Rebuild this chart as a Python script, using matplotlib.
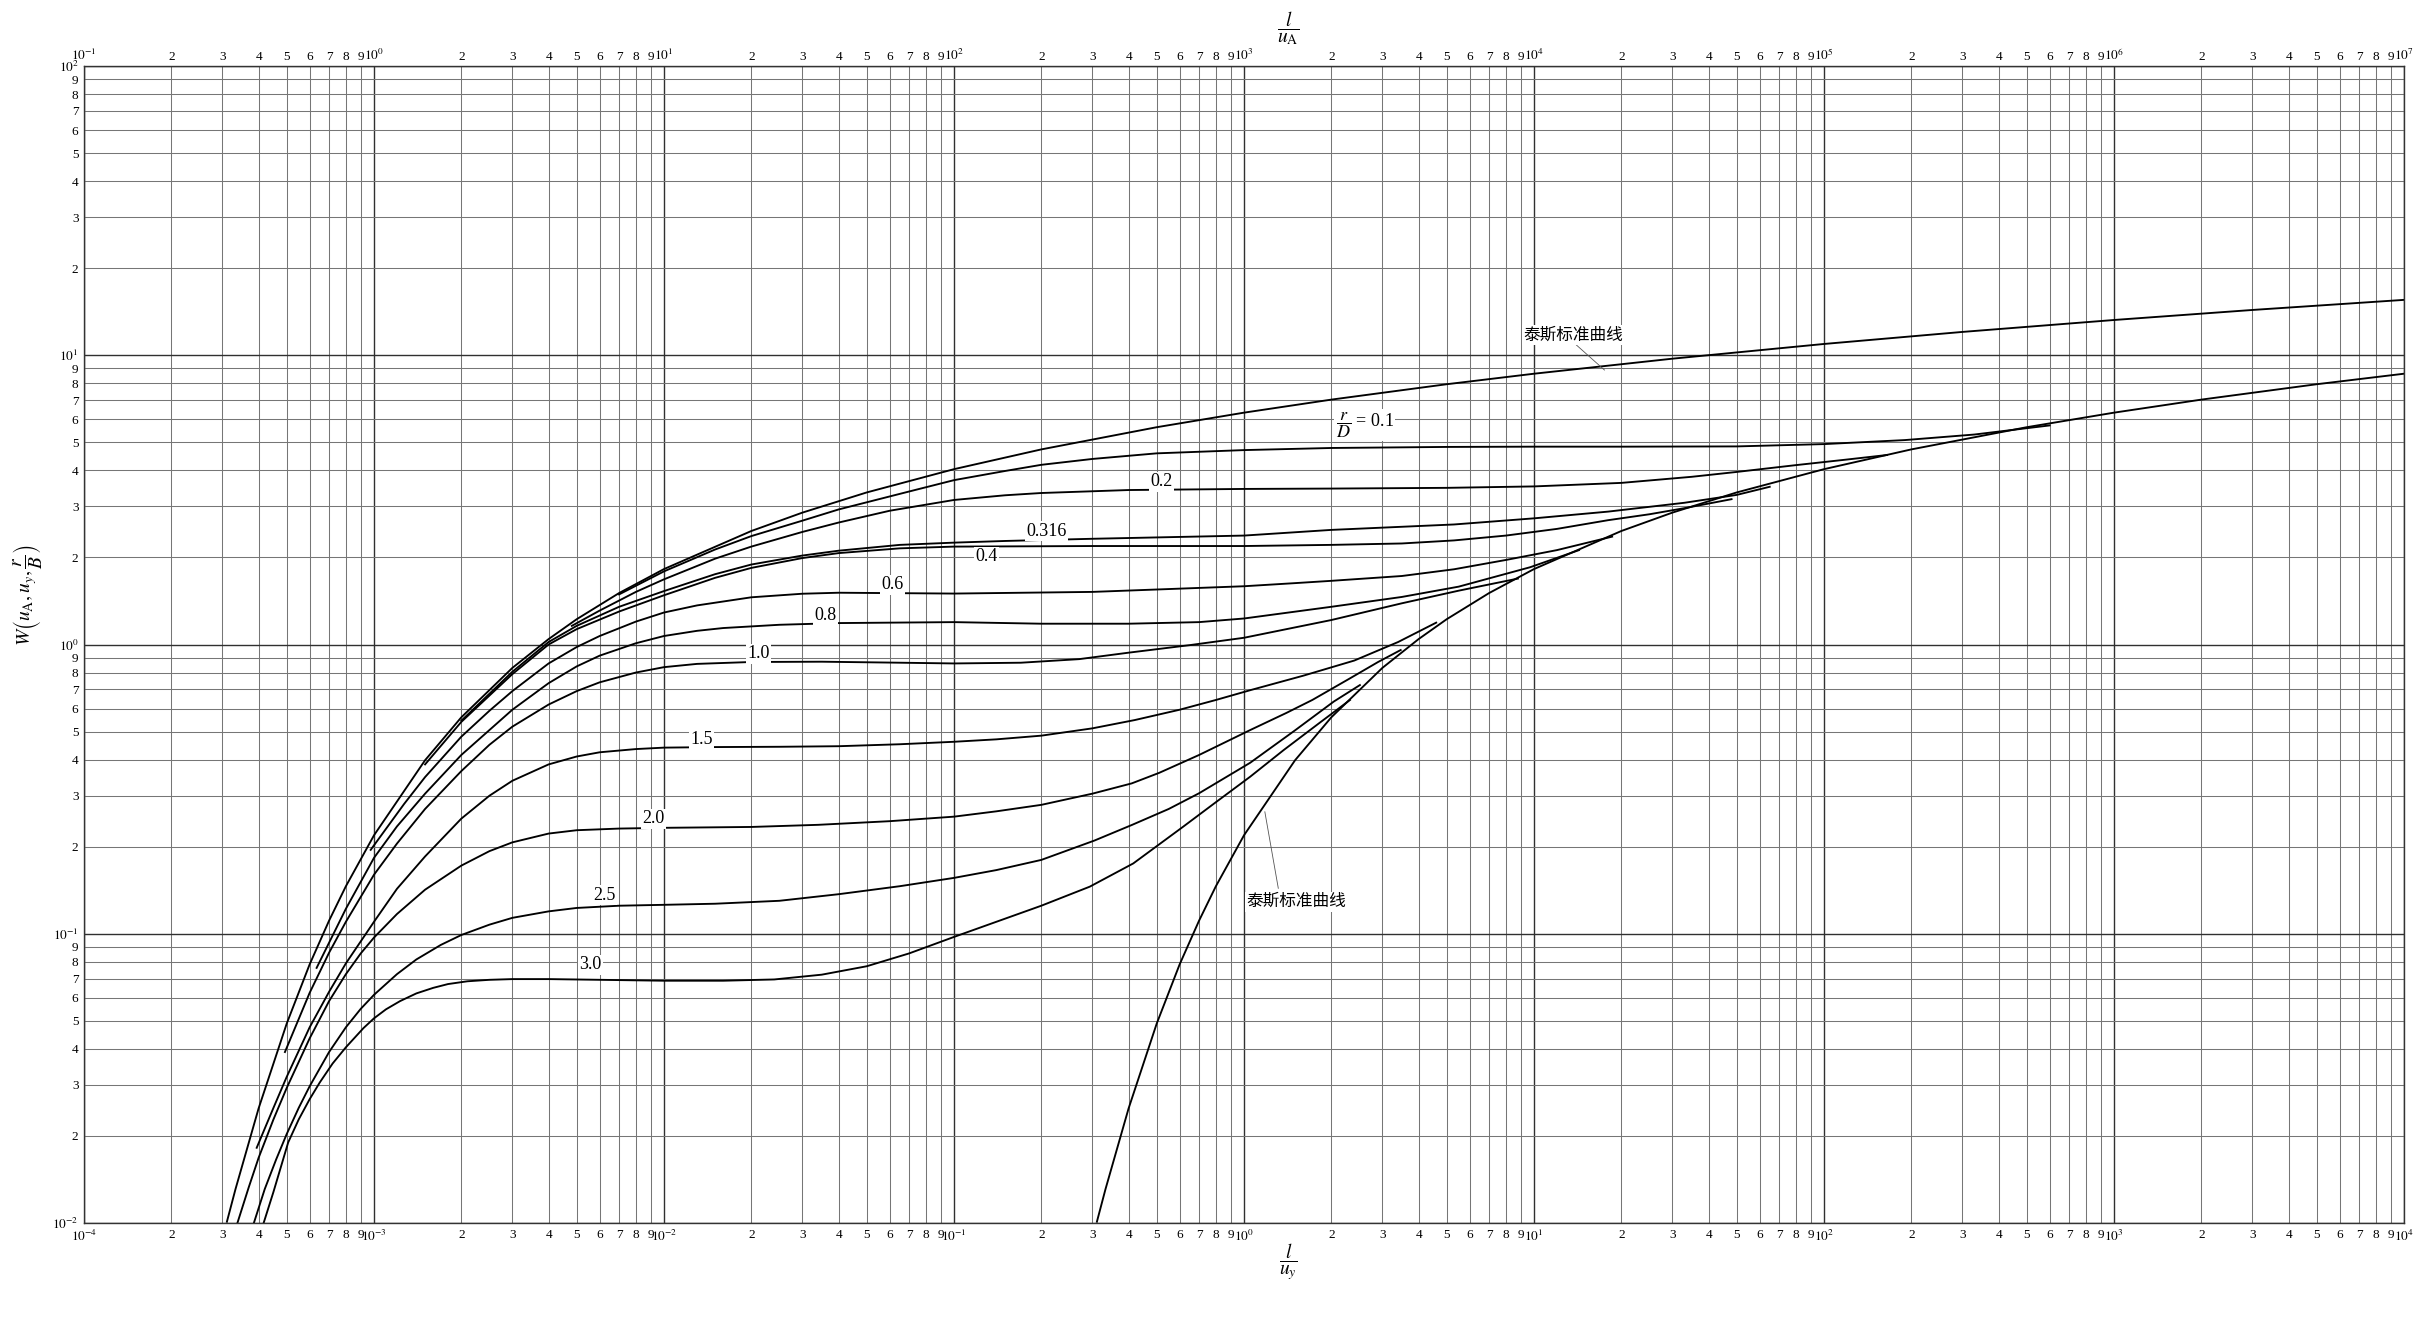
import numpy as np
import matplotlib
matplotlib.use("Agg")
import matplotlib.pyplot as plt
from matplotlib.ticker import FixedLocator, FuncFormatter

# ---- data --------------------------------------------------------------
# Theis curve against 1/u_A (top axis)
theis_a_x = [0.311, 0.333, 0.4, 0.5, 0.6, 0.7, 0.8, 1, 1.5, 2, 3, 4, 5, 7, 10, 20, 30, 50,
             100, 200, 500, 1e3, 2e3, 5e3, 1e4, 3e4, 1e5, 3e5, 1e6, 3e6, 1e7]
theis_a_w = [0.0101, 0.0131, 0.0249, 0.0489, 0.0784, 0.111, 0.146, 0.219, 0.398, 0.560, 0.830,
             1.044, 1.223, 1.506, 1.823, 2.468, 2.857, 3.355, 4.038, 4.726, 5.639, 6.332, 7.024,
             7.940, 8.633, 9.73, 10.94, 12.04, 13.24, 14.34, 15.54]
# Theis curve against 1/u_y (bottom axis)
theis_b_x = [0.311, 0.333, 0.4, 0.5, 0.6, 0.7, 0.8, 1, 1.5, 2, 3, 4, 5, 7, 10, 20, 30, 50,
             100, 200, 500, 1e3, 2e3, 5e3, 1e4]
theis_b_w = [0.0101, 0.0131, 0.0249, 0.0489, 0.0784, 0.111, 0.146, 0.219, 0.398, 0.560, 0.830,
             1.044, 1.223, 1.506, 1.823, 2.468, 2.857, 3.355, 4.038, 4.726, 5.639, 6.332, 7.024,
             7.940, 8.633]

# r/D curves: type A part (x = 1/u_A) and type B part (x = 1/u_y)
rd_01_ax = [7, 10, 15, 20, 30, 40, 70, 100, 150, 200, 300, 500, 1000, 2000, 5000, 10000]
rd_01_aw = [1.49, 1.79, 2.13, 2.37, 2.68, 2.93, 3.38, 3.70, 3.98, 4.18, 4.38, 4.58, 4.70, 4.78,
            4.82, 4.83]
rd_01_bx = [20, 50, 100, 190, 330, 600]
rd_01_bw = [4.83, 4.84, 4.93, 5.09, 5.32, 5.72]

rd_02_ax = [4.81, 6, 8, 10, 15, 20, 30, 40, 60, 100, 150, 200, 400, 1000]
rd_02_aw = [1.16, 1.31, 1.52, 1.68, 1.98, 2.18, 2.45, 2.64, 2.90, 3.16, 3.28, 3.34, 3.42, 3.45]
rd_02_bx = [2, 5, 10, 20, 35, 50, 80, 120, 165]
rd_02_bw = [3.46, 3.48, 3.52, 3.62, 3.80, 3.95, 4.17, 4.36, 4.52]

rd_0316_ax = [2.0, 3, 4, 5, 7, 10, 15, 20, 30, 40, 65, 100, 150, 300, 1000]
rd_0316_aw = [0.545, 0.805, 1.02, 1.16, 1.35, 1.53, 1.75, 1.89, 2.03, 2.11, 2.21, 2.25, 2.28,
              2.32, 2.38]
rd_0316_bx = [2, 5.3, 10, 18, 33, 50, 65]
rd_0316_bw = [2.49, 2.60, 2.73, 2.88, 3.09, 3.29, 3.51]

rd_04_ax = [1.5, 2, 3, 4, 5, 7, 10, 15, 20, 30, 40, 65, 100, 300, 1000]
rd_04_aw = [0.385, 0.54, 0.79, 1.00, 1.13, 1.30, 1.48, 1.70, 1.84, 1.99, 2.07, 2.15, 2.18, 2.19,
            2.19]
rd_04_bx = [2, 3.5, 5.3, 8, 12, 18, 25, 33, 48]
rd_04_bw = [2.21, 2.235, 2.29, 2.38, 2.51, 2.69, 2.82, 2.96, 3.18]

rd_06_ax = [0.974, 1.27, 1.5, 2, 2.5, 3, 4, 5, 6, 8, 10, 13, 20, 30, 40, 100, 300, 1000]
rd_06_aw = [0.195, 0.281, 0.348, 0.48, 0.59, 0.69, 0.86, 0.98, 1.07, 1.20, 1.29, 1.365, 1.456,
            1.498, 1.51, 1.50, 1.52, 1.59]
rd_06_bx = [1.5, 2, 3.5, 5.3, 8, 12, 18.6]
rd_06_bw = [1.63, 1.66, 1.725, 1.82, 1.96, 2.12, 2.36]

rd_08_ax = [0.634, 0.8, 1.0, 1.2, 1.5, 2, 3, 4, 5, 6, 8, 10, 13, 16, 25, 40, 100, 200, 400,
            700, 1000]
rd_08_aw = [0.0762, 0.122, 0.183, 0.235, 0.305, 0.415, 0.595, 0.735, 0.84, 0.915, 1.01, 1.07,
            1.115, 1.14, 1.17, 1.186, 1.195, 1.18, 1.18, 1.195, 1.23]
rd_08_bx = [2, 3.5, 5.5, 9.7, 14.3]
rd_08_bw = [1.35, 1.46, 1.585, 1.85, 2.12]

rd_10_ax = [0.493, 0.6, 0.7, 0.8, 1.0, 1.2, 1.5, 2, 2.5, 3, 4, 5, 6, 8, 10, 13, 20, 35, 60, 100,
            170, 270, 400, 650, 1000]
rd_10_aw = [0.039, 0.0625, 0.086, 0.11, 0.16, 0.205, 0.27, 0.365, 0.45, 0.52, 0.62, 0.69, 0.74,
            0.80, 0.835, 0.857, 0.870, 0.872, 0.866, 0.860, 0.865, 0.89, 0.937, 0.995, 1.055]
rd_10_bx = [2, 3.5, 5.5, 8.8]
rd_10_bw = [1.215, 1.388, 1.535, 1.69]

rd_15_ax = [0.394, 0.45, 0.5, 0.6, 0.7, 0.8, 1.0, 1.2, 1.5, 2, 2.5, 3, 4, 5, 6, 8, 10, 15, 25,
            40, 65, 100]
rd_15_aw = [0.0182, 0.025, 0.032, 0.0475, 0.063, 0.079, 0.11, 0.143, 0.185, 0.25, 0.30, 0.338,
            0.385, 0.41, 0.424, 0.435, 0.44, 0.442, 0.443, 0.445, 0.452, 0.461]
rd_15_bx = [0.14, 0.2, 0.3, 0.42, 0.6, 0.8, 1.05, 1.6, 2.4, 3.4, 4.6]
rd_15_bw = [0.47, 0.484, 0.513, 0.548, 0.595, 0.643, 0.695, 0.78, 0.88, 1.02, 1.19]

rd_20_ax = [0.337, 0.37, 0.4, 0.45, 0.5, 0.6, 0.7, 0.8, 0.9, 1.0, 1.2, 1.5, 2, 2.5, 3, 4, 5, 7,
            10, 20, 34, 60, 100]
rd_20_aw = [0.0099, 0.0133, 0.0168, 0.0228, 0.0293, 0.0435, 0.0585, 0.0725, 0.0855, 0.097,
            0.117, 0.142, 0.172, 0.193, 0.207, 0.222, 0.228, 0.231, 0.2324, 0.234, 0.238, 0.245,
            0.254]
rd_20_bx = [0.14, 0.2, 0.3, 0.41, 0.51, 0.7, 1.05, 1.4, 1.72, 2.3, 2.9, 3.47]
rd_20_bw = [0.265, 0.279, 0.305, 0.331, 0.36, 0.415, 0.506, 0.58, 0.643, 0.76, 0.87, 0.957]

rd_25_ax = [0.384, 0.42, 0.46, 0.5, 0.55, 0.6, 0.7, 0.8, 0.9, 1.0, 1.2, 1.4, 1.7, 2.0, 2.5, 3,
            4, 5, 7, 10, 15, 25, 40, 65, 100]
rd_25_aw = [0.0099, 0.0131, 0.0166, 0.0203, 0.025, 0.0297, 0.039, 0.0475, 0.055, 0.0615, 0.0725,
            0.0815, 0.0915, 0.099, 0.1075, 0.1135, 0.1195, 0.1228, 0.125, 0.1259, 0.127, 0.130,
            0.137, 0.146, 0.156]
rd_25_bx = [0.14, 0.2, 0.305, 0.41, 0.55, 0.7, 1.05, 1.5, 2.04, 2.51]
rd_25_bw = [0.166, 0.18, 0.21, 0.2376, 0.27, 0.306, 0.39, 0.505, 0.635, 0.724]

rd_30_ax = [0.415, 0.45, 0.506, 0.55, 0.6, 0.65, 0.72, 0.8, 0.92, 1.0, 1.1, 1.23, 1.4, 1.6,
            1.8, 2.1, 2.5, 3, 4, 6, 10, 16, 24, 35, 50, 70, 100]
rd_30_aw = [0.0099, 0.0128, 0.019, 0.0228, 0.0268, 0.0306, 0.0356, 0.0405, 0.0472, 0.051,
            0.0548, 0.0585, 0.0622, 0.065, 0.067, 0.0685, 0.0693, 0.0697, 0.0697, 0.0693, 0.0688,
            0.0688, 0.0695, 0.0722, 0.0772, 0.0855, 0.0975]
rd_30_bx = [0.14, 0.2, 0.294, 0.415, 0.617, 0.8, 1.05, 1.37, 1.8, 2.32]
rd_30_bw = [0.110, 0.125, 0.1455, 0.175, 0.2345, 0.285, 0.349, 0.4315, 0.531, 0.643]

curves = [
    (rd_01_ax, rd_01_aw, rd_01_bx, rd_01_bw),
    (rd_02_ax, rd_02_aw, rd_02_bx, rd_02_bw),
    (rd_0316_ax, rd_0316_aw, rd_0316_bx, rd_0316_bw),
    (rd_04_ax, rd_04_aw, rd_04_bx, rd_04_bw),
    (rd_06_ax, rd_06_aw, rd_06_bx, rd_06_bw),
    (rd_08_ax, rd_08_aw, rd_08_bx, rd_08_bw),
    (rd_10_ax, rd_10_aw, rd_10_bx, rd_10_bw),
    (rd_15_ax, rd_15_aw, rd_15_bx, rd_15_bw),
    (rd_20_ax, rd_20_aw, rd_20_bx, rd_20_bw),
    (rd_25_ax, rd_25_aw, rd_25_bx, rd_25_bw),
    (rd_30_ax, rd_30_aw, rd_30_bx, rd_30_bw),
]

# curve labels: text, 1/u_y position, W position
rd_labels = ["0.2", "0.316", "0.4", "0.6", "0.8", "1.0", "1.5", "2.0", "2.5", "3.0"]
rd_label_x = [0.52, 0.2085, 0.1295, 0.0613, 0.036, 0.0212, 0.0135, 0.0092, 0.00624, 0.00557]
rd_label_y = [3.65, 2.46, 2.007, 1.61, 1.26, 0.928, 0.469, 0.250, 0.136, 0.078]

UA_PER_UY = 1e3  # top axis (1/u_A) = 1000 x bottom axis (1/u_y)

# ---- figure ------------------------------------------------------------
plt.rcParams["font.family"] = ["Liberation Serif", "Noto Sans CJK SC", "DejaVu Sans"]
plt.rcParams["mathtext.fontset"] = "stix"

W, H = 2425, 1334
fig = plt.figure(figsize=(W / 100, H / 100), dpi=100)
L, R, T, B = 84, 2404, 66, 1223
ax = fig.add_axes([L / W, 1 - B / H, (R - L) / W, (B - T) / H])
ax.set_xscale("log")
ax.set_yscale("log")
ax.set_xlim(1e-4, 1e4)
ax.set_ylim(1e-2, 1e2)


def log_ticks(axis, lo, hi):
    majors = [10.0 ** k for k in range(lo, hi + 1)]
    minors = [m * 10.0 ** k for k in range(lo, hi) for m in range(2, 10)]
    axis.set_major_locator(FixedLocator(majors))
    axis.set_minor_locator(FixedLocator(minors))
    axis.set_major_formatter(FuncFormatter(lambda v, p: r"$10^{%d}$" % round(np.log10(v))))
    axis.set_minor_formatter(
        FuncFormatter(lambda v, p: "%d" % round(v / 10 ** np.floor(np.log10(v) + 1e-9))))


log_ticks(ax.xaxis, -4, 4)
log_ticks(ax.yaxis, -2, 2)
ax.grid(True, which="major", color="#303030", lw=1.0)
ax.grid(True, which="minor", color="#767676", lw=0.75)
ax.tick_params(which="both", length=0, labelsize=9.5, pad=4)
for s in ax.spines.values():
    s.set_color("#333333")
    s.set_linewidth(1.0)

ax2 = ax.twiny()
ax2.set_xscale("log")
ax2.set_xlim(1e-1, 1e7)
log_ticks(ax2.xaxis, -1, 7)
ax2.tick_params(which="both", length=0, labelsize=9.5, pad=2)
for s in ax2.spines.values():
    s.set_visible(False)

lw = 1.35
ax.plot(np.array(theis_a_x) / UA_PER_UY, theis_a_w, color="black", lw=lw)
ax.plot(theis_b_x, theis_b_w, color="black", lw=lw)
for axx, aw, bx, bw in curves:
    xs = np.concatenate([np.array(axx) / UA_PER_UY, bx])
    ws = np.concatenate([aw, bw])
    ax.plot(xs, ws, color="black", lw=lw)

box = dict(facecolor="white", edgecolor="none", pad=1.0)
for t, x, y in zip(rd_labels, rd_label_x, rd_label_y):
    ax.text(x, y, t, fontsize=13, ha="center", va="center", bbox=box, zorder=5)
ax.text(2.61, 5.74, r"$\dfrac{r}{D}$ = 0.1", fontsize=13, ha="center", va="center",
        bbox=box, zorder=5)

ax.text(13.7, 11.75, "泰斯标准曲线", fontsize=12, ha="center", va="center",
        family=["Noto Sans CJK SC"], bbox=box, zorder=5)
ax.plot([14.0, 17.5], [10.85, 8.89], color="#555555", lw=0.6)
ax.text(1.51, 0.129, "泰斯标准曲线", fontsize=12, ha="center", va="center",
        family=["Noto Sans CJK SC"], bbox=box, zorder=5)
ax.plot([1.313, 1.18], [0.1436, 0.264], color="#555555", lw=0.6)

fig.text(1288 / W, 1 - 28 / H, r"$\dfrac{l}{u_{\rm A}}$", fontsize=14, ha="center", va="center")
fig.text(1288 / W, 1 - 1262 / H, r"$\dfrac{l}{u_y}$", fontsize=14, ha="center", va="center")
fig.text(28 / W, 1 - 595 / H, r"$W\left(u_{\rm A},u_y,\dfrac{r}{B}\right)$", fontsize=14,
         ha="center", va="center", rotation=90)

fig.savefig("out.png", dpi=100, facecolor="white")
